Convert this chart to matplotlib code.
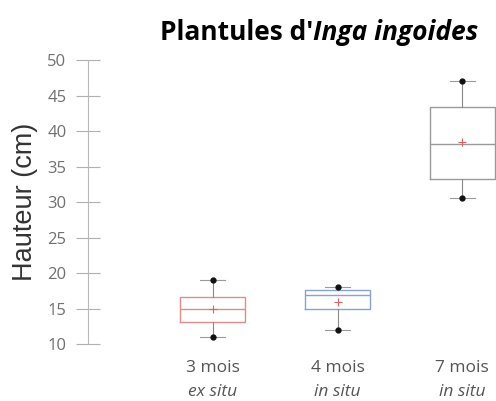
import matplotlib
matplotlib.use("Agg")
import matplotlib.pyplot as plt

# data
groups = ["3 mois", "4 mois", "7 mois"]
conditions = ["ex situ", "in situ", "in situ"]
q1 = [13.1, 15.0, 33.2]
med = [15.0, 16.9, 38.2]
q3 = [16.6, 17.6, 43.4]
whislo = [11.0, 12.0, 30.6]
whishi = [19.0, 18.0, 47.0]
means = [15.0, 15.9, 38.4]
yticks = [10, 15, 20, 25, 30, 35, 40, 45, 50]

edge_colors = ["#e58a8a", "#86a2d6", "#9a9a9a"]
positions = [1, 2, 3]

fig = plt.figure(figsize=(4.96, 4.01), dpi=100)
ax = fig.add_axes([0.1774, 0.142, 0.8226, 0.708])

stats = []
for i in range(len(groups)):
    stats.append({"q1": q1[i], "med": med[i], "q3": q3[i],
                  "whislo": whislo[i], "whishi": whishi[i],
                  "mean": means[i], "fliers": []})

bp = ax.bxp(stats, positions=positions, widths=0.52, showmeans=True,
            showfliers=False, capwidths=0.2,
            whiskerprops=dict(color="#8a8a8a", lw=0.8),
            capprops=dict(color="#9a9a9a", lw=0.8),
            meanprops=dict(marker="+", markeredgecolor="#e06060",
                           markersize=6, markeredgewidth=0.8))
for i, c in enumerate(edge_colors):
    bp["boxes"][i].set_color(c)
    bp["boxes"][i].set_linewidth(1.0)
    bp["medians"][i].set_color(c)
    bp["medians"][i].set_linewidth(1.0)

# black dots at whisker ends
ax.plot(positions, whislo, "o", color="#111111", ms=3.5, zorder=4)
ax.plot(positions, whishi, "o", color="#111111", ms=3.5, zorder=4)

ax.set_xlim(0, 3.27)
ax.set_ylim(10, 50)
ax.set_yticks(yticks)
ax.tick_params(axis="y", direction="inout", length=17, width=0.8,
               color="#b0b0b0", labelsize=12, labelcolor="#707070", pad=7)
ax.set_xticks([])
for s in ["top", "right", "bottom"]:
    ax.spines[s].set_visible(False)
ax.spines["left"].set_color("#b8b8b8")
ax.spines["left"].set_linewidth(0.8)
for lab in ax.get_yticklabels():
    lab.set_family("Open Sans")

for i, p in enumerate(positions):
    ax.text(p, 6.65, groups[i], ha="center", va="center", fontsize=12.5,
            color="#555555", family="Open Sans")
    ax.text(p, 3.2, conditions[i], ha="center", va="center", fontsize=12.5,
            color="#555555", family="Open Sans", style="italic")

fig.text(0.05, 0.496, "Hauteur (cm)", rotation=90, ha="center", va="center",
         fontsize=19.5, color="#333333", family="Liberation Sans")

t1 = fig.text(0.3226, 0.900, "Plantules d'", ha="left", va="baseline",
              fontsize=19, fontweight="bold", family="Open Sans")
ax.annotate("Inga ingoides", xy=(1, 0), xycoords=t1, ha="left", va="bottom",
            fontsize=19, fontweight="bold", style="italic",
            family="Open Sans", annotation_clip=False)

fig.savefig("out.png", dpi=100)
